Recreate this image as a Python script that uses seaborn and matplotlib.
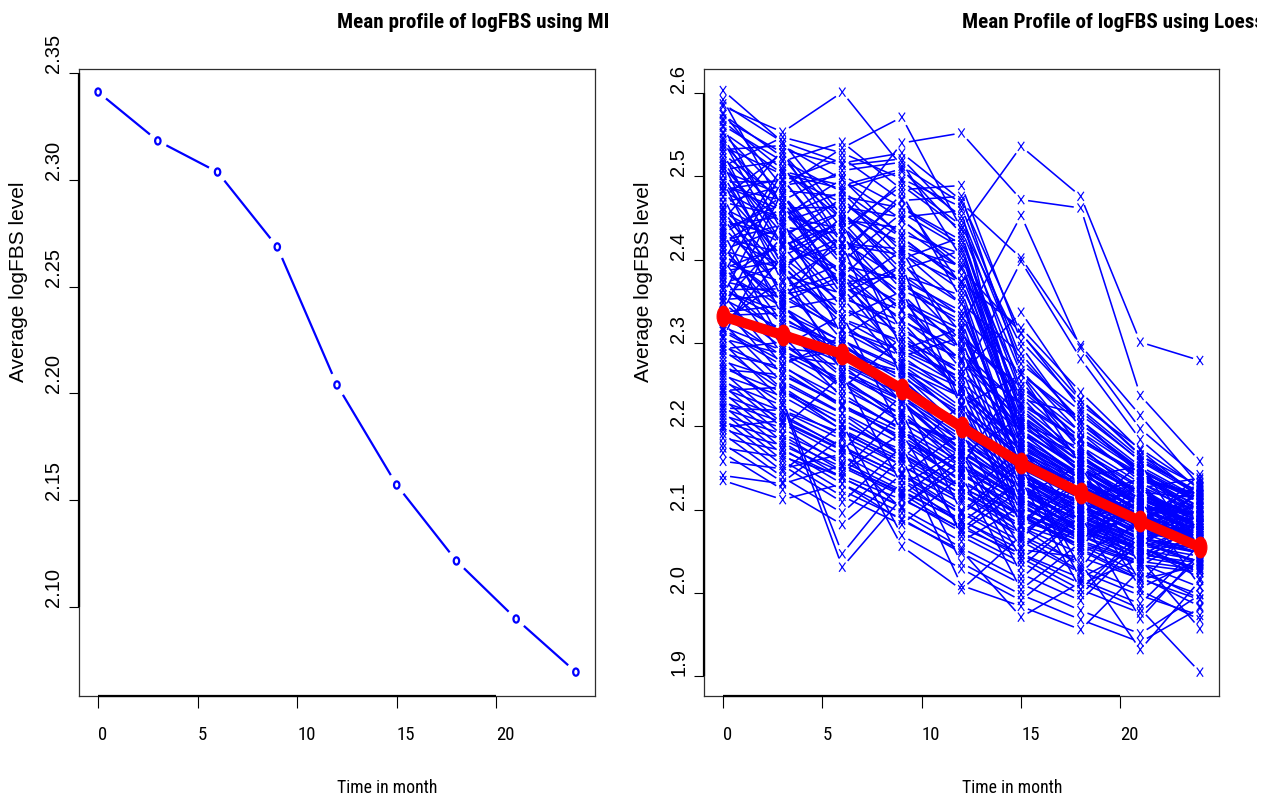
import numpy as np
import pandas as pd
import matplotlib
matplotlib.use("Agg")
import matplotlib.pyplot as plt
import seaborn as sns
from matplotlib.path import Path
from matplotlib.transforms import Affine2D, Bbox, blended_transform_factory, ScaledTranslation
from matplotlib.collections import LineCollection
from matplotlib import font_manager

# ---------------------------------------------------------------- data
months = [0, 3, 6, 9, 12, 15, 18, 21, 24]

# mean logFBS per visit after multiple imputation
mi_mean = [2.3413, 2.3184, 2.3038, 2.2687, 2.2040, 2.1571, 2.1215, 2.0943, 2.0694]

# loess-smoothed mean profile
loess_mean = [2.332, 2.3095, 2.2867, 2.2447, 2.1990, 2.1558, 2.1198, 2.0862, 2.0550]

# individual logFBS values, one list per visit (same subject order in each)
fbs_m0 = [2.603, 2.584, 2.576, 2.566, 2.559, 2.551, 2.543, 2.536, 2.528, 2.522,
          2.515, 2.508, 2.501, 2.494, 2.488, 2.482, 2.476, 2.469, 2.463, 2.457,
          2.451, 2.446, 2.439, 2.433, 2.428, 2.423, 2.417, 2.411, 2.406, 2.401,
          2.396, 2.391, 2.385, 2.379, 2.374, 2.368, 2.363, 2.358, 2.353, 2.348,
          2.343, 2.338, 2.333, 2.329, 2.324, 2.319, 2.314, 2.309, 2.305, 2.300,
          2.296, 2.291, 2.287, 2.283, 2.278, 2.274, 2.270, 2.265, 2.261, 2.257,
          2.253, 2.249, 2.245, 2.241, 2.237, 2.233, 2.229, 2.225, 2.221, 2.217,
          2.213, 2.209, 2.205, 2.201, 2.196, 2.191, 2.186, 2.179, 2.168, 2.135,
          2.592, 2.569, 2.532, 2.512, 2.484, 2.459, 2.436, 2.413, 2.386, 2.364,
          2.337, 2.316, 2.293, 2.268, 2.243, 2.222, 2.199, 2.174, 2.158, 2.141,
          2.512, 2.447, 2.561, 2.382, 2.493, 2.338, 2.527, 2.421, 2.475, 2.306,
          2.546, 2.398, 2.462, 2.357, 2.518, 2.431, 2.587, 2.318, 2.489, 2.372,
          2.553, 2.412, 2.501, 2.349, 2.468, 2.326, 2.539, 2.389, 2.441, 2.364,
          2.574, 2.407, 2.482, 2.333, 2.506, 2.453, 2.378, 2.426, 2.352, 2.495]
fbs_m3 = [2.541, 2.553, 2.487, 2.508, 2.433, 2.479, 2.416, 2.502, 2.391, 2.458,
          2.372, 2.519, 2.447, 2.352, 2.471, 2.403, 2.331, 2.452, 2.386, 2.419,
          2.346, 2.428, 2.365, 2.298, 2.393, 2.442, 2.324, 2.389, 2.354, 2.295,
          2.373, 2.322, 2.343, 2.286, 2.358, 2.309, 2.337, 2.273, 2.316, 2.294,
          2.261, 2.307, 2.284, 2.318, 2.252, 2.291, 2.273, 2.244, 2.287, 2.231,
          2.266, 2.243, 2.271, 2.214, 2.255, 2.227, 2.241, 2.203, 2.236, 2.198,
          2.225, 2.189, 2.218, 2.181, 2.211, 2.173, 2.205, 2.166, 2.198, 2.159,
          2.191, 2.153, 2.184, 2.146, 2.177, 2.139, 2.171, 2.133, 2.124, 2.112,
          2.462, 2.528, 2.537, 2.431, 2.496, 2.361, 2.467, 2.341, 2.399, 2.328,
          2.345, 2.278, 2.301, 2.262, 2.247, 2.219, 2.207, 2.163, 2.149, 2.131,
          2.547, 2.532, 2.518, 2.506, 2.494, 2.483, 2.471, 2.462, 2.528, 2.451,
          2.439, 2.512, 2.426, 2.497, 2.415, 2.476, 2.541, 2.404, 2.459, 2.393,
          2.503, 2.438, 2.387, 2.428, 2.489, 2.376, 2.466, 2.417, 2.452, 2.365,
          2.523, 2.349, 2.445, 2.336, 2.478, 2.382, 2.421, 2.408, 2.358, 2.397]
fbs_m6 = [2.452, 2.601, 2.534, 2.448, 2.387, 2.362, 2.445, 2.468, 2.329, 2.403,
          2.418, 2.481, 2.307, 2.431, 2.366, 2.348, 2.287, 2.437, 2.303, 2.378,
          2.274, 2.342, 2.396, 2.252, 2.323, 2.371, 2.296, 2.264, 2.317, 2.334,
          2.281, 2.245, 2.301, 2.273, 2.314, 2.234, 2.291, 2.308, 2.259, 2.285,
          2.226, 2.276, 2.239, 2.263, 2.215, 2.256, 2.225, 2.195, 2.251, 2.047,
          2.223, 2.209, 2.234, 2.174, 2.216, 2.031, 2.203, 2.165, 2.196, 2.154,
          2.188, 2.146, 2.184, 2.138, 2.176, 2.131, 2.171, 2.123, 2.262, 2.116,
          2.158, 2.109, 2.151, 2.203, 2.145, 2.096, 2.138, 2.187, 2.082, 2.131,
          2.413, 2.421, 2.496, 2.457, 2.413, 2.384, 2.356, 2.355, 2.328, 2.297,
          2.268, 2.292, 2.245, 2.227, 2.201, 2.192, 2.172, 2.141, 2.167, 2.153,
          2.528, 2.513, 2.541, 2.489, 2.522, 2.476, 2.507, 2.463, 2.448, 2.497,
          2.431, 2.419, 2.474, 2.405, 2.458, 2.393, 2.516, 2.441, 2.379, 2.428,
          2.485, 2.367, 2.452, 2.354, 2.501, 2.342, 2.411, 2.329, 2.482, 2.316,
          2.437, 2.381, 2.469, 2.302, 2.398, 2.359, 2.386, 2.446, 2.373, 2.418]
fbs_m9 = [2.398, 2.512, 2.571, 2.540, 2.326, 2.411, 2.292, 2.427, 2.362, 2.338,
          2.257, 2.409, 2.353, 2.314, 2.284, 2.392, 2.248, 2.371, 2.271, 2.329,
          2.238, 2.296, 2.341, 2.215, 2.274, 2.306, 2.255, 2.231, 2.284, 2.192,
          2.263, 2.307, 2.236, 2.219, 2.276, 2.197, 2.246, 2.228, 2.207, 2.266,
          2.185, 2.242, 2.195, 2.226, 2.166, 2.213, 2.193, 2.153, 2.204, 2.135,
          2.188, 2.164, 2.198, 2.142, 2.179, 2.114, 2.167, 2.128, 2.161, 2.119,
          2.153, 2.217, 2.145, 2.103, 2.141, 2.096, 2.237, 2.089, 2.129, 2.082,
          2.123, 2.176, 2.117, 2.069, 2.192, 2.162, 2.104, 2.056, 2.143, 2.087,
          2.353, 2.376, 2.448, 2.382, 2.359, 2.301, 2.319, 2.268, 2.289, 2.259,
          2.233, 2.227, 2.209, 2.183, 2.172, 2.158, 2.136, 2.112, 2.101, 2.121,
          2.497, 2.521, 2.484, 2.509, 2.471, 2.462, 2.517, 2.451, 2.438, 2.426,
          2.494, 2.413, 2.401, 2.479, 2.388, 2.376, 2.528, 2.364, 2.447, 2.351,
          2.506, 2.339, 2.421, 2.326, 2.463, 2.314, 2.473, 2.302, 2.431, 2.291,
          2.489, 2.279, 2.415, 2.268, 2.456, 2.393, 2.347, 2.369, 2.381, 2.406]
fbs_m12 = [2.311, 2.468, 2.437, 2.552, 2.247, 2.288, 2.318, 2.372, 2.224, 2.279,
           2.193, 2.347, 2.268, 2.242, 2.307, 2.226, 2.178, 2.321, 2.208, 2.276,
           2.171, 2.258, 2.279, 2.151, 2.223, 2.243, 2.198, 2.166, 2.234, 2.145,
           2.197, 2.263, 2.189, 2.156, 2.237, 2.124, 2.206, 2.164, 2.181, 2.211,
           2.133, 2.194, 2.151, 2.171, 2.124, 2.167, 2.141, 2.111, 2.164, 2.082,
           2.143, 2.118, 2.157, 2.094, 2.136, 2.073, 2.128, 2.088, 2.227, 2.076,
           2.114, 2.068, 2.108, 2.161, 2.193, 2.054, 2.097, 2.048, 2.172, 2.141,
           2.085, 2.036, 2.168, 2.029, 2.073, 2.009, 2.152, 2.004, 2.099, 2.051,
           2.296, 2.302, 2.389, 2.332, 2.291, 2.253, 2.262, 2.219, 2.248, 2.216,
           2.185, 2.182, 2.176, 2.147, 2.126, 2.119, 2.096, 2.078, 2.062, 2.087,
           2.463, 2.447, 2.489, 2.431, 2.476, 2.418, 2.402, 2.459, 2.389, 2.374,
           2.441, 2.363, 2.427, 2.352, 2.411, 2.338, 2.471, 2.327, 2.396, 2.316,
           2.452, 2.304, 2.381, 2.293, 2.423, 2.281, 2.368, 2.269, 2.407, 2.258,
           2.436, 2.246, 2.392, 2.235, 2.414, 2.347, 2.311, 2.333, 2.357, 2.372]
fbs_m15 = [2.236, 2.402, 2.536, 2.472, 2.181, 2.203, 2.147, 2.318, 2.262, 2.228,
           2.132, 2.287, 2.194, 2.171, 2.247, 2.162, 2.124, 2.453, 2.142, 2.206,
           2.116, 2.398, 2.213, 2.107, 2.168, 2.183, 2.139, 2.211, 2.171, 2.093,
           2.153, 2.337, 2.124, 2.111, 2.181, 2.079, 2.157, 2.115, 2.134, 2.146,
           2.094, 2.141, 2.263, 2.126, 2.082, 2.129, 2.104, 2.067, 2.119, 2.042,
           2.098, 2.073, 2.114, 2.152, 2.091, 2.037, 2.087, 2.046, 2.083, 2.136,
           2.174, 2.031, 2.071, 2.023, 2.065, 2.017, 2.158, 2.011, 2.053, 2.004,
           2.136, 1.998, 2.041, 1.991, 2.124, 1.984, 2.114, 2.069, 2.062, 1.971,
           2.192, 2.248, 2.312, 2.263, 2.224, 2.193, 2.201, 2.162, 2.177, 2.166,
           2.138, 2.133, 2.127, 2.109, 2.095, 2.079, 2.056, 2.047, 2.104, 2.052,
           2.281, 2.243, 2.302, 2.218, 2.267, 2.196, 2.254, 2.172, 2.233, 2.187,
           2.296, 2.158, 2.212, 2.141, 2.226, 2.169, 2.311, 2.134, 2.198, 2.149,
           2.275, 2.126, 2.208, 2.118, 2.239, 2.111, 2.221, 2.102, 2.186, 2.095,
           2.263, 2.087, 2.178, 2.081, 2.192, 2.164, 2.153, 2.176, 2.142, 2.205]
fbs_m18 = [2.158, 2.297, 2.476, 2.462, 2.136, 2.174, 2.097, 2.241, 2.153, 2.184,
           2.074, 2.203, 2.148, 2.127, 2.186, 2.119, 2.071, 2.294, 2.101, 2.157,
           2.153, 2.281, 2.164, 2.063, 2.124, 2.139, 2.086, 2.145, 2.117, 2.053,
           2.114, 2.232, 2.081, 2.068, 2.143, 2.032, 2.123, 2.075, 2.093, 2.106,
           2.057, 2.102, 2.176, 2.084, 2.139, 2.095, 2.066, 2.026, 2.088, 2.004,
           2.061, 2.118, 2.077, 2.016, 2.056, 1.998, 2.132, 2.011, 2.149, 2.004,
           2.083, 2.093, 2.114, 1.991, 2.133, 2.084, 2.029, 1.979, 2.109, 2.061,
           2.104, 1.968, 2.091, 2.051, 2.086, 1.956, 2.079, 2.036, 2.024, 2.013,
           2.139, 2.193, 2.221, 2.208, 2.168, 2.136, 2.151, 2.129, 2.132, 2.129,
           2.098, 2.112, 2.091, 2.074, 2.066, 2.047, 2.102, 2.018, 2.069, 2.043,
           2.207, 2.186, 2.226, 2.163, 2.192, 2.148, 2.171, 2.139, 2.214, 2.129,
           2.198, 2.118, 2.157, 2.106, 2.182, 2.134, 2.231, 2.097, 2.166, 2.113,
           2.218, 2.092, 2.151, 2.087, 2.176, 2.081, 2.161, 2.074, 2.143, 2.069,
           2.203, 2.063, 2.137, 2.058, 2.153, 2.122, 2.116, 2.128, 2.109, 2.144]
fbs_m21 = [2.104, 2.213, 2.301, 2.237, 2.092, 2.117, 2.129, 2.171, 2.072, 2.143,
           2.056, 2.147, 2.112, 2.081, 2.138, 2.073, 2.103, 2.197, 2.063, 2.118,
           2.032, 2.184, 2.121, 2.096, 2.088, 2.152, 2.054, 2.097, 2.079, 2.019,
           2.131, 2.166, 2.044, 2.112, 2.106, 2.003, 2.085, 2.041, 2.156, 2.069,
           2.024, 2.074, 2.114, 2.133, 2.012, 2.061, 2.098, 1.997, 2.058, 2.073,
           2.133, 2.006, 2.142, 1.987, 2.121, 2.068, 2.094, 2.041, 2.105, 1.976,
           2.116, 1.969, 2.137, 2.062, 2.093, 2.049, 2.126, 1.951, 2.081, 2.035,
           2.071, 1.941, 2.058, 2.016, 2.052, 2.028, 2.045, 1.932, 2.091, 1.981,
           2.087, 2.146, 2.162, 2.141, 2.126, 2.101, 2.109, 2.091, 2.101, 2.094,
           2.067, 2.079, 2.066, 2.053, 2.111, 2.083, 2.064, 2.056, 2.036, 2.017,
           2.152, 2.139, 2.173, 2.117, 2.134, 2.108, 2.128, 2.096, 2.159, 2.086,
           2.147, 2.079, 2.121, 2.073, 2.141, 2.101, 2.165, 2.066, 2.112, 2.083,
           2.158, 2.061, 2.107, 2.057, 2.132, 2.052, 2.118, 2.046, 2.104, 2.043,
           2.149, 2.038, 2.099, 2.034, 2.113, 2.091, 2.081, 2.094, 2.076, 2.105]
fbs_m24 = [2.071, 2.128, 2.279, 2.158, 2.064, 2.086, 2.043, 2.114, 2.093, 2.102,
           2.018, 2.108, 2.081, 2.133, 2.098, 2.047, 2.061, 2.136, 2.084, 2.089,
           2.075, 2.123, 2.092, 2.052, 2.117, 2.074, 2.028, 2.066, 2.107, 1.984,
           2.051, 2.115, 2.069, 2.008, 2.082, 1.968, 2.131, 2.096, 2.044, 2.102,
           1.998, 2.121, 2.078, 2.057, 2.087, 2.035, 2.106, 1.973, 2.124, 2.063,
           2.091, 2.041, 2.109, 2.058, 2.114, 2.072, 2.126, 1.957, 2.093, 2.042,
           2.081, 2.048, 2.119, 2.037, 2.103, 2.029, 2.138, 1.998, 2.142, 2.007,
           2.112, 1.982, 2.096, 2.033, 2.128, 1.993, 2.081, 2.015, 2.066, 1.905,
           2.054, 2.091, 2.119, 2.099, 2.084, 2.071, 2.077, 2.062, 2.074, 2.069,
           2.047, 2.055, 2.052, 2.084, 2.068, 2.059, 2.049, 2.024, 2.087, 1.992,
           2.113, 2.104, 2.126, 2.092, 2.118, 2.079, 2.097, 2.083, 2.121, 2.071,
           2.109, 2.066, 2.088, 2.059, 2.112, 2.075, 2.128, 2.053, 2.094, 2.062,
           2.117, 2.048, 2.085, 2.044, 2.101, 2.039, 2.091, 2.036, 2.081, 2.031,
           2.111, 2.028, 2.077, 2.025, 2.087, 2.072, 2.064, 2.069, 2.058, 2.083]

x_ticks = [0, 5, 10, 15, 20]
mi_yticks = [2.10, 2.15, 2.20, 2.25, 2.30, 2.35]
loess_yticks = [1.9, 2.0, 2.1, 2.2, 2.3, 2.4, 2.5, 2.6]

title_mi = "Mean profile of logFBS using MI"
title_loess = "Mean Profile of logFBS using Loess"
x_label = "Time in month"
y_label = "Average logFBS level"

# ---------------------------------------------------------------- style
sns.set_theme(style="white")
plt.rcParams["font.family"] = ["Liberation Sans", "DejaVu Sans"]
plt.rcParams["text.color"] = "black"


def pick_narrow_font():
    """Narrowest sans family available for the horizontal captions."""
    entries = font_manager.fontManager.ttflist
    names = {f.name for f in entries}
    for cand in ["Liberation Sans Narrow", "Arial Narrow", "Roboto Condensed",
                 "Open Sans Condensed", "Noto Sans Condensed", "DejaVu Sans Condensed"]:
        if cand in names:
            return cand, "normal"
    for f in entries:
        if f.stretch in ("condensed", "semi-condensed") and "Mono" not in f.name \
                and "Serif" not in f.name:
            return f.name, f.stretch
    return "Liberation Sans", "normal"


NARROW, NARROW_STRETCH = pick_narrow_font()

W, H, DPI = 1277, 798, 100
fig = plt.figure(figsize=(W / DPI, H / DPI), dpi=DPI, facecolor="white")
renderer = fig.canvas.get_renderer()


def fit_size(text_artist, target_px, max_size):
    """Shrink a caption's font size so its drawn width is at most target_px."""
    width = text_artist.get_window_extent(renderer=renderer).width
    size = text_artist.get_fontsize()
    text_artist.set_fontsize(min(max_size, size * target_px / width))


def axes_px(left, right, top, bottom):
    return fig.add_axes([left / W, 1 - bottom / H, (right - left) / W, (bottom - top) / H])


ax_mi = axes_px(79, 595, 69, 696)
ax_lo = axes_px(704, 1219, 69, 696)

XLIM = (-0.96, 24.96)
YLIM_MI = (2.0582, 2.3521)
YLIM_LO = (1.8764, 2.6288)

# marker shapes: slightly tall ovals and crosses
oval_mi = Path.unit_circle().transformed(Affine2D().scale(0.75, 1.0))
oval_red = Path.unit_circle().transformed(Affine2D().scale(0.62, 1.0))
cross = Path([(-0.7, -1), (0.7, 1), (-0.7, 1), (0.7, -1)],
             [Path.MOVETO, Path.LINETO, Path.MOVETO, Path.LINETO])


def gapped_segments(ax, xs, ys, gap_px, squeeze=0.7):
    """Segments between consecutive points, trimmed near each point (type='b')."""
    pts = ax.transData.transform(np.column_stack([xs, ys]))
    inv = ax.transData.inverted()
    segs = []
    for p0, p1 in zip(pts[:-1], pts[1:]):
        d = p1 - p0
        length = np.hypot(d[0] / squeeze, d[1])
        f = gap_px / length
        if f >= 0.5:
            continue
        segs.append(inv.transform(np.array([p0 + f * d, p1 - f * d])))
    return segs


def off(dx, dy):
    return ScaledTranslation(dx / DPI, dy / DPI, fig.dpi_scale_trans)


def r_frame(ax, yticks, ylabels, xlim, ylim):
    ax.set_xlim(xlim)
    ax.set_ylim(ylim)
    ax.set_facecolor("white")
    ax.grid(False)
    for s in ax.spines.values():
        s.set_visible(True)
        s.set_color("#2e2e2e")
        s.set_linewidth(0.9)
    ax.set_xticks(x_ticks)
    ax.set_yticks(yticks)
    ax.tick_params(axis="x", direction="out", length=8.5, width=0.8, color="black",
                   labelbottom=False, bottom=True)
    ax.tick_params(axis="y", direction="out", length=7, width=0.8, color="black",
                   labelleft=False, left=True)
    bx = blended_transform_factory(ax.transData, ax.transAxes)
    by = blended_transform_factory(ax.transAxes, ax.transData)
    ax.plot([x_ticks[0], x_ticks[-1]], [0, 0], transform=bx, color="black", lw=1.6,
            clip_on=False, solid_capstyle="butt", zorder=5)
    ax.plot([0, 0], [yticks[0], yticks[-1]], transform=by, color="black", lw=1.6,
            clip_on=False, solid_capstyle="butt", zorder=5)
    for v in x_ticks:
        ax.text(v, 0, f"{v:g}", transform=bx + off(0, -44), ha="left", va="baseline",
                fontsize=13.5, family=NARROW, fontstretch=NARROW_STRETCH)
    for v, lab in zip(yticks, ylabels):
        ax.text(0, v, lab, transform=by + off(-20, 0), rotation=90, rotation_mode="anchor",
                ha="left", va="baseline", fontsize=14.5)
    ax.text(0, 0.5, y_label, transform=ax.transAxes + off(-55, 0), rotation=90,
            rotation_mode="anchor", ha="left", va="baseline", fontsize=15)
    xl = ax.text(0.5, 0, x_label, transform=ax.transAxes + off(0, -97), ha="left",
                 va="baseline", fontsize=13, family=NARROW, fontstretch=NARROW_STRETCH)
    fit_size(xl, 100, 13)


r_frame(ax_mi, mi_yticks, [f"{v:.2f}" for v in mi_yticks], XLIM, YLIM_MI)
r_frame(ax_lo, loess_yticks, [f"{v:.1f}" for v in loess_yticks], XLIM, YLIM_LO)

# ---------------------------------------------------------------- left panel
ax_mi.add_collection(LineCollection(gapped_segments(ax_mi, months, mi_mean, 13),
                                    colors="blue", linewidths=1.6, zorder=2))
sns.scatterplot(x=months, y=mi_mean, ax=ax_mi, marker=oval_mi, s=5.2 ** 2,
                color="blue", facecolors="none", edgecolor="blue", linewidth=1.6,
                legend=False, zorder=3)

# ---------------------------------------------------------------- right panel
visits = [fbs_m0, fbs_m3, fbs_m6, fbs_m9, fbs_m12, fbs_m15, fbs_m18, fbs_m21, fbs_m24]
long = pd.DataFrame({
    "subject": np.tile(np.arange(len(fbs_m0)), len(months)),
    "month": np.repeat(months, len(fbs_m0)),
    "fbs": np.concatenate(visits),
})

segs = []
for _, g in long.groupby("subject"):
    segs.extend(gapped_segments(ax_lo, g["month"].to_numpy(), g["fbs"].to_numpy(), 10))
ax_lo.add_collection(LineCollection(segs, colors="blue", linewidths=1.15, zorder=2))

sns.scatterplot(data=long, x="month", y="fbs", ax=ax_lo, marker=cross, s=6.6 ** 2,
                color="blue", facecolors="none", edgecolor="blue", linewidth=0.85,
                legend=False, zorder=3)
sns.lineplot(x=months, y=loess_mean, ax=ax_lo, color="red", lw=7.4, marker=oval_red,
             ms=15, mec="red", mfc="red", errorbar=None, solid_capstyle="round",
             solid_joinstyle="round", zorder=4)

for ax, ylim in ((ax_mi, YLIM_MI), (ax_lo, YLIM_LO)):
    ax.set_xlim(XLIM)
    ax.set_ylim(ylim)
    ax.set_xlabel("")
    ax.set_ylabel("")

# ---------------------------------------------------------------- titles
titles = []
for ax, title in ((ax_mi, title_mi), (ax_lo, title_loess)):
    pos = ax.get_position()
    t = fig.text((pos.x0 + pos.x1) / 2, 1 - 28 / H, title, ha="left", va="baseline",
                 fontsize=15.5, fontweight="bold", family=NARROW, fontstretch=NARROW_STRETCH)
    t.set_clip_box(Bbox.from_extents(0, 0, 1257, H))
    t.set_clip_on(True)
    titles.append(t)
fit_size(titles[0], 272, 15.5)
titles[1].set_fontsize(titles[0].get_fontsize())

fig.savefig("out.png", dpi=DPI, facecolor="white")
